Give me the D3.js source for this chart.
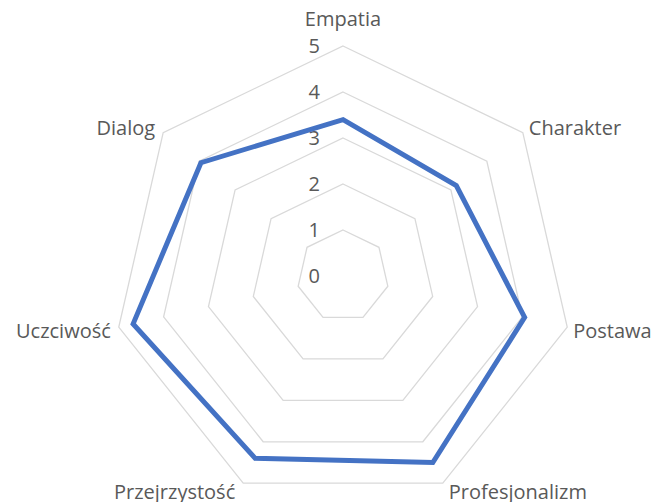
<!DOCTYPE html>
<html>
<head>
<meta charset="utf-8">
<script src="https://cdn.jsdelivr.net/npm/d3@7"></script>
<style>
  body { margin: 0; background: #fff; }
  text { font-family: "Open Sans", "Noto Sans", sans-serif; fill: #595959; }
</style>
</head>
<body>
<svg width="659" height="502"></svg>
<script>
var categories = ['Empatia', 'Charakter', 'Postawa', 'Profesjonalizm', 'Przejrzystość', 'Uczciwość', 'Dialog'];
var values = [3.4, 3.15, 4.05, 4.5, 4.4, 4.68, 3.95];
var ticks = [0, 1, 2, 3, 4, 5];

var width = 659, height = 502;
var cx = 343, cy = 276, radius = 230;

var svg = d3.select('svg');
var g = svg.append('g')
  .attr('transform', 'translate(' + cx + ',' + cy + ')');

var r = d3.scaleLinear()
  .domain([0, 5])
  .range([0, radius]);

var angle = d3.scaleLinear()
  .domain([0, categories.length])
  .range([0, 2 * Math.PI]);

function point(i, v) {
  var a = angle(i);
  return [r(v) * Math.sin(a), -r(v) * Math.cos(a)];
}

// grid rings
var ring = d3.line().curve(d3.curveLinearClosed);
g.selectAll('.ring')
  .data(ticks.filter(function(t) { return t > 0; }))
  .enter().append('path')
  .attr('class', 'ring')
  .attr('d', function(t) {
    return ring(categories.map(function(c, i) { return point(i, t); }));
  })
  .style('fill', 'none')
  .style('stroke', '#d9d9d9')
  .style('stroke-width', 1.3);

// tick labels
g.selectAll('.tick')
  .data(ticks)
  .enter().append('text')
  .attr('class', 'tick')
  .attr('x', -23)
  .attr('y', function(t) { return -r(t); })
  .attr('dy', '0.35em')
  .style('text-anchor', 'end')
  .style('font-size', '20px')
  .text(function(t) { return t; });

// series
g.append('path')
  .attr('d', ring(values.map(function(v, i) { return point(i, v); })))
  .style('fill', 'none')
  .style('stroke', '#4472c4')
  .style('stroke-width', 5)
  .style('stroke-linejoin', 'miter');

// category labels
g.selectAll('.cat')
  .data(categories)
  .enter().append('text')
  .attr('class', 'cat')
  .attr('x', function(d, i) {
    var s = Math.sin(angle(i));
    var p = point(i, 5);
    if (Math.abs(s) < 0.1) return p[0];
    return p[0] + (s > 0 ? 6 : -8);
  })
  .attr('y', function(d, i) {
    var c = Math.cos(angle(i));
    var p = point(i, 5);
    if (c > 0.99) return p[1] - 27;
    if (c < -0.5) return p[1] + 1;
    if (Math.abs(c) < 0.3) return p[1] + 4;
    return p[1] - 5;
  })
  .attr('dy', function(d, i) {
    var c = Math.cos(angle(i));
    return c < -0.5 ? '0.75em' : '0.35em';
  })
  .style('text-anchor', function(d, i) {
    var s = Math.sin(angle(i));
    if (Math.abs(s) < 0.1) return 'middle';
    return s > 0 ? 'start' : 'end';
  })
  .style('font-size', '20px')
  .text(function(d) { return d; });
</script>
</body>
</html>
